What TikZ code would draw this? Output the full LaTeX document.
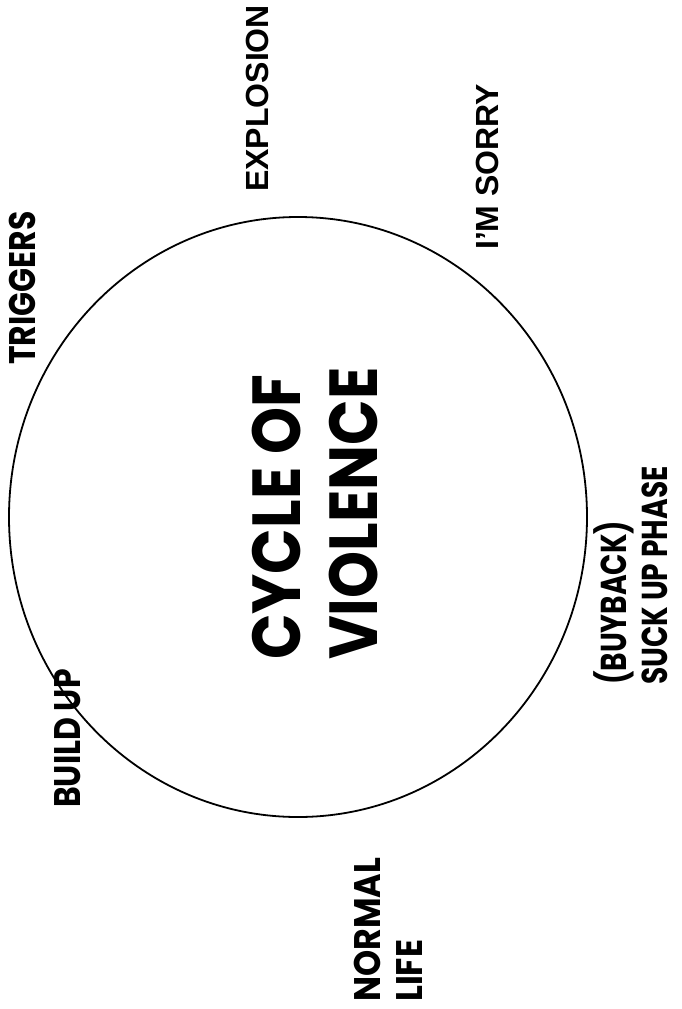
\documentclass[tikz,border=0pt]{standalone}
\usepackage{fontspec}
\newfontfamily\geo[FakeStretch=0.85]{Poppins}
\newfontfamily\geotitle[FakeStretch=0.88]{Poppins}
\newfontfamily\geonarrow[FakeStretch=0.78]{Poppins}
\newfontfamily\geowide[FakeStretch=0.9]{Poppins}
\newfontfamily\ari{Liberation Sans}
\begin{document}
\begin{tikzpicture}[x=1pt,y=-1pt,
  lbl/.style={rotate=90,inner sep=0pt,anchor=base west,align=left},
  geolbl/.style={lbl,font={\geo\bfseries\fontsize{37}{42}\selectfont}},
  arilbl/.style={lbl,font={\ari\bfseries\fontsize{32}{38}\selectfont}},
  title/.style={lbl,font={\geotitle\bfseries\fontsize{68}{77}\selectfont}}]
\useasboundingbox (0,0) rectangle (682,1009);
\draw[line width=1.8pt] (298,517) ellipse [x radius=289pt, y radius=300pt];
\node[title] (title) at (377,660) {CYCLE OF\\VIOLENCE};
\node[arilbl] (explosion) at (268,192) {EXPLOSION};
\node[arilbl] (sorry) at (498,250) {I’M SORRY};
\node[geolbl] (triggers) at (35,365) {TRIGGERS};
\node[geolbl] (buildup) at (80,808) {BUILD UP};
\node[geolbl,font={\geowide\bfseries\fontsize{37}{42}\selectfont}] (normal) at (422,1002) {NORMAL\\LIFE};
\node[geolbl,font={\geonarrow\bfseries\fontsize{36}{41}\selectfont}] (suck) at (667,685) {(BUYBACK)\\SUCK UP PHASE};
\end{tikzpicture}
\end{document}
